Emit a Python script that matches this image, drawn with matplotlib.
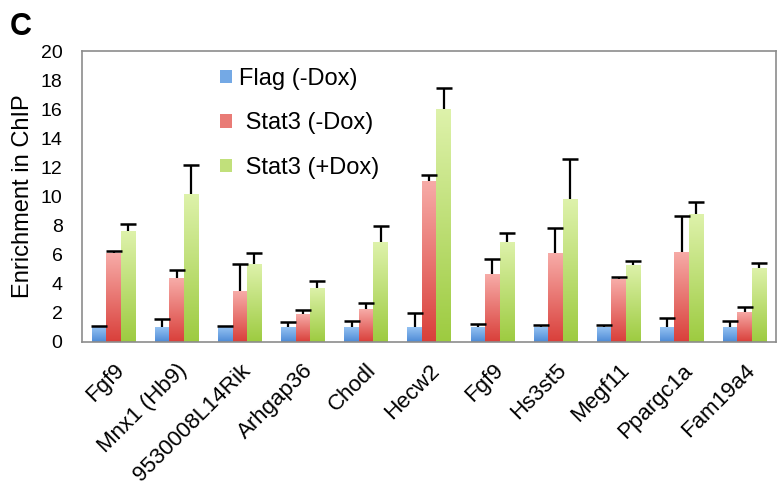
import numpy as np
import matplotlib
matplotlib.use("Agg")
import matplotlib.pyplot as plt
import matplotlib.transforms as mtransforms
from matplotlib.colors import LinearSegmentedColormap
from matplotlib.patches import Patch

plt.rcParams["font.family"] = ["Liberation Sans", "DejaVu Sans"]

genes = ["Fgf9", "Mnx1 (Hb9)", "9530008L14Rik", "Arhgap36", "Chodl", "Hecw2",
         "Fgf9", "Hs3st5", "Megf11", "Ppargc1a", "Fam19a4"]

flag_dox = [1.0, 1.0, 1.0, 1.0, 1.0, 1.0, 1.0, 1.0, 1.0, 1.0, 1.0]
flag_err = [0.1, 0.55, 0.12, 0.35, 0.43, 0.96, 0.22, 0.15, 0.15, 0.63, 0.43]

stat3_minus = [6.1, 4.37, 3.47, 1.9, 2.26, 11.1, 4.67, 6.1, 4.3, 6.2, 2.07]
stat3_minus_err = [0.18, 0.57, 1.89, 0.29, 0.39, 0.35, 1.03, 1.76, 0.14, 2.47, 0.33]

stat3_plus = [7.6, 10.2, 5.36, 3.74, 6.86, 16.0, 6.9, 9.8, 5.3, 8.8, 5.1]
stat3_plus_err = [0.5, 2.0, 0.78, 0.42, 1.09, 1.5, 0.6, 2.75, 0.27, 0.8, 0.3]

series = [
    ("Flag (-Dox)", flag_dox, flag_err, "#94c2f2", "#4d8ad6"),
    (" Stat3 (-Dox)", stat3_minus, stat3_minus_err, "#f7aca8", "#d93f3a"),
    (" Stat3 (+Dox)", stat3_plus, stat3_plus_err, "#def2ab", "#9dcb40"),
]

fig = plt.figure(figsize=(7.81, 4.92), dpi=100)
ax = fig.add_axes([0.105, 0.305, 0.889, 0.591])

x = np.arange(len(genes))
width = 0.23
gradient = np.linspace(0, 1, 256).reshape(-1, 1)
handles = []

for i, (label, vals, errs, light, dark) in enumerate(series):
    pos = x + (i - 1) * width
    vals = np.array(vals)
    tops = vals + np.array(errs)
    bars = ax.bar(pos, vals, width, color="none", zorder=2)
    cmap = LinearSegmentedColormap.from_list(label, [dark, light])
    # degrade vertical dans chaque barre
    for b in bars:
        bx, by = b.get_x(), b.get_y()
        im = ax.imshow(gradient, cmap=cmap, aspect="auto", origin="lower",
                       extent=[bx, bx + b.get_width(), by, by + b.get_height()],
                       zorder=2.5)
        im.set_clip_path(b)
        b.set_edgecolor("none")
    # barres d'erreur : seulement vers le haut
    ax.vlines(pos, vals, tops, color="black", linewidth=1.6, zorder=3)
    ax.plot(pos, tops, linestyle="none", marker="_", markersize=12,
            markeredgewidth=1.8, color="black", zorder=3)
    handles.append(Patch(facecolor=cmap(0.55), edgecolor="none", label=label))

ax.set_xlim(-0.5, len(genes) - 0.5)
ax.set_ylim(0, 20)
ax.set_yticks(range(0, 21, 2))
ax.set_xticks(x)
ax.set_xticklabels(genes, rotation=45, ha="right", rotation_mode="anchor",
                   fontsize=16)
offset = mtransforms.ScaledTranslation(7 / 100, 0, fig.dpi_scale_trans)
for lab in ax.get_xticklabels():
    lab.set_transform(lab.get_transform() + offset)
ax.tick_params(axis="y", labelsize=14, length=0, pad=14)
ax.tick_params(axis="x", length=0, pad=13)
for s in ax.spines.values():
    s.set_color("#8c8c8c")
    s.set_linewidth(1.2)

ax.set_ylabel("Enrichment in ChIP", fontsize=17, labelpad=5)

ax.legend(handles=handles, loc="upper left", bbox_to_anchor=(0.185, 0.975),
          frameon=False, fontsize=17, handlelength=0.5, handleheight=0.5,
          handletextpad=0.3, labelspacing=0.95, borderaxespad=0)

fig.text(0.012, 0.975, "C", fontsize=22, fontweight="bold", va="top")

fig.savefig("out.png", dpi=100)
